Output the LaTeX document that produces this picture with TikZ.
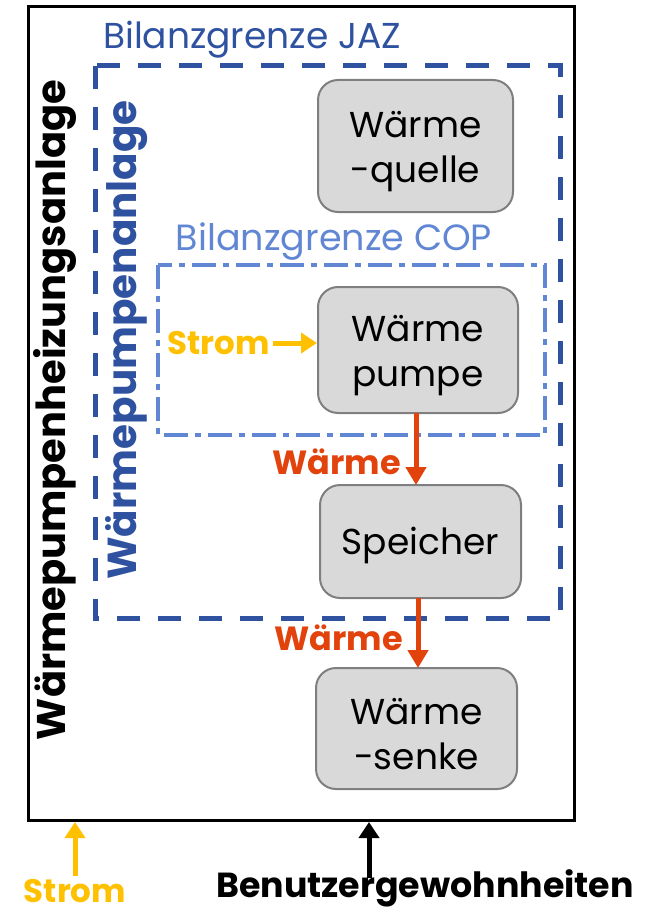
\documentclass[tikz,border=0pt]{standalone}
\usepackage{fontspec}
\setmainfont{Poppins}
\usetikzlibrary{arrows.meta}
\definecolor{jaz}{HTML}{2F52A0}
\definecolor{cop}{HTML}{6086D4}
\definecolor{strom}{HTML}{FFC000}
\definecolor{waerme}{HTML}{E2420C}
\definecolor{boxfill}{HTML}{D9D9D9}
\definecolor{boxdraw}{HTML}{7F7F7F}
\tikzset{
  comp/.style={draw=boxdraw, line width=2pt, fill=boxfill, rounded corners=20pt, inner sep=0pt},
  comptext/.style={align=center, font=\fontsize{36}{45}\selectfont, inner sep=0pt},
  heat/.style={draw=waerme, line width=5pt, -{Triangle[length=18pt,width=20pt]}},
  heatlabel/.style={text=waerme, font=\fontsize{33.5}{36}\selectfont\bfseries, inner sep=0pt},
  power/.style={draw=strom, line width=5pt, -{Triangle[length=16pt,width=20pt]}},
  user/.style={draw=black, line width=5pt, -{Triangle[length=16pt,width=20pt]}},
}
\begin{document}
\begin{tikzpicture}[x=1pt,y=-1pt]
\useasboundingbox (0,0) rectangle (652,912);
% outer boundary
\draw[line width=3pt] (28,7) rectangle (574,820);
% JAZ boundary
\draw[jaz, line width=5pt, dash pattern=on 23pt off 18pt] (95,66) rectangle (560,618);
\node[text=jaz, font=\fontsize{36}{40}\selectfont, inner sep=0pt] (jazlabel) at (252,40) {Bilanzgrenze JAZ};
% COP boundary
\draw[cop, line width=4.5pt, dash pattern=on 24pt off 7pt on 6pt off 7pt] (158,265) rectangle (545,435);
\node[text=cop, font=\fontsize{36.5}{40}\selectfont, inner sep=0pt] (coplabel) at (334,242) {Bilanzgrenze COP};
% vertical labels
\node[rotate=90, font=\fontsize{40}{44}\selectfont\bfseries, inner sep=0pt] (whz) at (55,410) {Wärmepumpenheizungsanlage};
\node[rotate=90, text=jaz, font=\fontsize{40.5}{44}\selectfont\bfseries, inner sep=0pt] (wpa) at (127,340) {Wärmepumpenanlage};
% components
\node[comp, minimum width=195pt, minimum height=132pt] (quelle) at (415.5,146) {};
\node[comptext] (quelletext) at ([yshift=-6pt]quelle.center) {Wärme\\-quelle};
\node[comp, minimum width=200pt, minimum height=126pt] (pumpe) at (418,350) {};
\node[comptext] (pumpetext) at ([yshift=-6pt]pumpe.center) {Wärme\\pumpe};
\node[comp, minimum width=201pt, minimum height=113pt] (speicher) at (420.5,541.5) {};
\node[comptext] (speichertext) at ([yshift=-4pt]speicher.center) {Speicher};
\node[comp, minimum width=201pt, minimum height=121pt] (senke) at (416.5,728.5) {};
\node[comptext] (senketext) at ([yshift=-6pt]senke.center) {Wärme\\-senke};
% heat flows
\coordinate (h1s) at (416,413);
\coordinate (h1e) at (416,485);
\draw[heat] (h1s) -- (h1e);
\node[heatlabel, anchor=east] (w1) at (401,462) {Wärme};
\coordinate (h2s) at (418,598);
\coordinate (h2e) at (418,668);
\draw[heat] (h2s) -- (h2e);
\node[heatlabel, anchor=east] (w2) at (403,638) {Wärme};
% Strom into heat pump
\node[text=strom, font=\fontsize{32.5}{36}\selectfont\bfseries, inner sep=0pt, anchor=east] (strom1) at (270,343) {Strom};
\draw[power] (strom1.east) ++(3pt,0) -- (pumpe.west |- strom1.east);
% bottom inputs
\node[text=strom, font=\fontsize{32.5}{36}\selectfont\bfseries, inner sep=0pt] (strom2) at (75,891) {Strom};
\coordinate (s2top) at (75,822);
\draw[power] (75,876) -- (s2top);
\node[font=\fontsize{34.8}{38}\selectfont\bfseries, inner sep=0pt] (benutzer) at (425,888) {Benutzergewohnheiten};
\coordinate (btop) at (369,822);
\draw[user] (369,878) -- (btop);
\end{tikzpicture}
\end{document}
